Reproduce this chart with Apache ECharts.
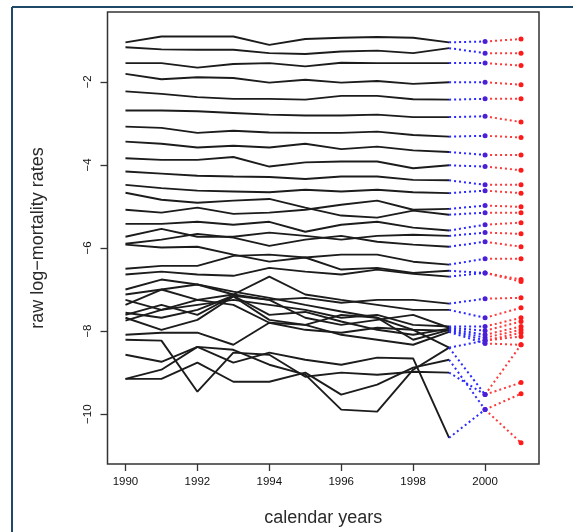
<!DOCTYPE html>
<html><head><meta charset="utf-8">
<script src="https://cdn.jsdelivr.net/npm/echarts@6/dist/echarts.min.js"></script>
<style>html,body{margin:0;padding:0;background:#fff}#c{width:573px;height:532px}</style>
</head><body><div id="c"></div>
<script>
// observed calendar years
const years = [1990,1991,1992,1993,1994,1995,1996,1997,1998,1999];
const yearFit = 2000;
const yearForecast = 2001;
const xTicks = [1990,1992,1994,1996,1998,2000];
const yTicks = [-10,-8,-6,-4,-2];

// raw log-mortality rates, one row per age group (1990..1999)
const observed = [
  [-1.05,-0.91,-0.91,-0.91,-1.11,-0.97,-0.94,-0.92,-0.94,-1.05],
  [-1.17,-1.22,-1.23,-1.23,-1.31,-1.33,-1.27,-1.25,-1.31,-1.19],
  [-1.55,-1.55,-1.66,-1.57,-1.55,-1.63,-1.54,-1.55,-1.55,-1.55],
  [-1.81,-1.94,-1.89,-1.91,-2.02,-1.95,-2.02,-1.98,-2.05,-2.01],
  [-2.23,-2.29,-2.37,-2.41,-2.41,-2.43,-2.34,-2.34,-2.42,-2.43],
  [-2.69,-2.69,-2.71,-2.75,-2.79,-2.81,-2.81,-2.79,-2.85,-2.85],
  [-3.08,-3.11,-3.23,-3.18,-3.22,-3.23,-3.23,-3.20,-3.28,-3.32],
  [-3.44,-3.49,-3.58,-3.54,-3.58,-3.49,-3.62,-3.56,-3.65,-3.69],
  [-3.84,-3.88,-3.88,-3.81,-4.04,-3.94,-3.92,-3.92,-4.08,-4.01],
  [-4.16,-4.21,-4.26,-4.28,-4.29,-4.34,-4.28,-4.28,-4.36,-4.37],
  [-4.48,-4.56,-4.62,-4.64,-4.66,-4.60,-4.64,-4.60,-4.66,-4.68],
  [-4.67,-4.84,-4.91,-4.86,-4.82,-5.03,-5.22,-5.27,-5.10,-5.20],
  [-5.08,-5.15,-5.03,-5.18,-5.15,-5.08,-4.96,-4.86,-5.08,-5.06],
  [-5.42,-5.42,-5.37,-5.44,-5.37,-5.61,-5.44,-5.37,-5.51,-5.58],
  [-5.73,-5.54,-5.73,-5.73,-5.63,-5.71,-5.80,-5.71,-5.68,-5.71],
  [-5.90,-5.80,-5.66,-5.75,-5.95,-5.80,-5.71,-5.85,-5.92,-5.97],
  [-6.50,-6.43,-6.43,-6.19,-6.16,-6.23,-6.16,-6.16,-6.33,-6.40],
  [-5.92,-5.99,-5.97,-6.16,-6.33,-6.23,-6.52,-6.48,-6.60,-6.55],
  [-6.64,-6.57,-6.64,-6.67,-6.48,-6.57,-6.64,-6.52,-6.62,-6.69],
  [-7.00,-6.76,-6.88,-7.12,-7.25,-7.20,-7.32,-7.25,-7.25,-7.34],
  [-7.12,-7.00,-7.25,-7.12,-6.69,-7.12,-7.25,-7.37,-7.49,-7.49],
  [-7.25,-7.49,-7.37,-7.25,-7.37,-7.49,-7.68,-7.61,-7.85,-7.89],
  [-7.56,-7.68,-7.49,-7.15,-7.25,-7.68,-7.85,-7.73,-7.61,-7.92],
  [-7.61,-7.37,-7.61,-7.15,-7.61,-7.54,-7.77,-7.97,-8.09,-7.94],
  [-7.68,-7.97,-7.73,-7.17,-7.73,-7.85,-7.61,-7.68,-8.21,-7.97],
  [-7.75,-7.49,-7.25,-7.37,-7.80,-7.97,-8.04,-7.92,-7.97,-7.99],
  [-8.09,-8.04,-8.04,-8.33,-7.80,-7.85,-8.09,-8.21,-8.33,-8.02],
  [-7.37,-7.00,-6.88,-7.05,-7.20,-7.37,-7.53,-7.68,-7.97,-8.40],
  [-8.21,-8.23,-9.46,-8.52,-8.57,-9.10,-9.00,-9.05,-8.98,-9.00],
  [-8.57,-8.74,-8.38,-8.76,-8.52,-8.69,-8.81,-8.64,-8.66,-10.57],
  [-9.15,-9.15,-8.76,-9.22,-9.22,-9.00,-9.53,-9.29,-8.88,-8.69],
  [-9.15,-8.93,-8.38,-8.45,-8.81,-9.05,-9.89,-9.94,-8.93,-8.40]
];
// fitted value for 2000 and forecast for 2001, same row order
const fitted2000 = [-1.03,-1.31,-1.55,-2.01,-2.41,-2.83,-3.30,-3.76,-4.04,-4.48,-4.62,-5.15,-4.98,-5.44,-5.63,-5.85,-6.26,-6.60,-6.60,-7.22,-7.68,-7.89,-7.99,-8.09,-8.16,-8.23,-8.30,-8.23,-9.53,-9.89,-9.89,-9.53];
const forecast2001 = [-0.97,-1.31,-1.61,-2.07,-2.41,-2.97,-3.34,-3.76,-4.13,-4.48,-4.68,-5.15,-5.01,-5.39,-5.66,-5.97,-6.26,-6.76,-6.81,-7.20,-7.44,-7.68,-7.77,-7.89,-7.97,-8.04,-8.33,-8.13,-9.24,-9.51,-10.69,-8.33];

const chart = echarts.init(document.getElementById('c'), null, {renderer:'canvas'});
const black = [], blue = [], red = [];
const endOnly = (v, p) => (p.dataIndex === 1 ? 5 : 0);
observed.forEach((row, i) => {
  black.push({type:'line', data: years.map((y, j) => [y, row[j]]), symbol:'none',
    lineStyle:{color:'#1c1c1c', width:1.9}, z:2, silent:true});
  blue.push({type:'line', data: [[years[years.length-1], row[row.length-1]], [yearFit, fitted2000[i]]],
    symbol:'circle', symbolSize:endOnly, itemStyle:{color:'#4a1fd8'},
    lineStyle:{color:'#2a2aff', width:2, type:[2,3]}, z:4, silent:true});
  red.push({type:'line', data: [[yearFit, fitted2000[i]], [yearForecast, forecast2001[i]]],
    symbol:'circle', symbolSize:endOnly, itemStyle:{color:'#ff1a1a'},
    lineStyle:{color:'#ff3a3a', width:2, type:[2,3]}, z:3, silent:true});
});

const FONT = '"Liberation Sans", Arial, sans-serif';
chart.setOption({
  animation:false,
  backgroundColor:'#ffffff',
  grid:{left:107.5, right:34, top:12, bottom:67, show:true, borderColor:'#333', borderWidth:1.5, backgroundColor:'transparent'},
  xAxis:{type:'value', min:1989.5, max:2001.5,
    axisLine:{show:false},
    axisTick:{show:true, customValues:xTicks, length:7, lineStyle:{color:'#333', width:1.3}},
    axisLabel:{customValues:xTicks, fontSize:11.5, color:'#111', margin:12, fontFamily:FONT,
      formatter:(v) => String(v)},
    splitLine:{show:false},
    name:'calendar years', nameLocation:'middle', nameGap:45,
    nameTextStyle:{fontSize:18, color:'#2a2a2a', fontFamily:FONT}},
  yAxis:{type:'value', min:-11.2, max:-0.32,
    axisLine:{show:false},
    axisTick:{show:true, customValues:yTicks, length:7, lineStyle:{color:'#333', width:1.3}},
    axisLabel:{customValues:yTicks, rotate:90, fontSize:11.5, color:'#111', margin:14, fontFamily:FONT,
      formatter:(v) => String(v).replace('-', '\u2212')},
    splitLine:{show:false},
    name:'raw log\u2212mortality rates', nameLocation:'middle', nameGap:60,
    nameTextStyle:{fontSize:18, color:'#2a2a2a', fontFamily:FONT}},
  graphic:[
    {type:'line', shape:{x1:12, y1:7, x2:573, y2:7}, style:{stroke:'#1e4a68', lineWidth:2}, z:10},
    {type:'line', shape:{x1:12, y1:7, x2:12, y2:532}, style:{stroke:'#1e4a68', lineWidth:2}, z:10}
  ],
  series: black.concat(blue, red)
});
</script>
</body></html>
